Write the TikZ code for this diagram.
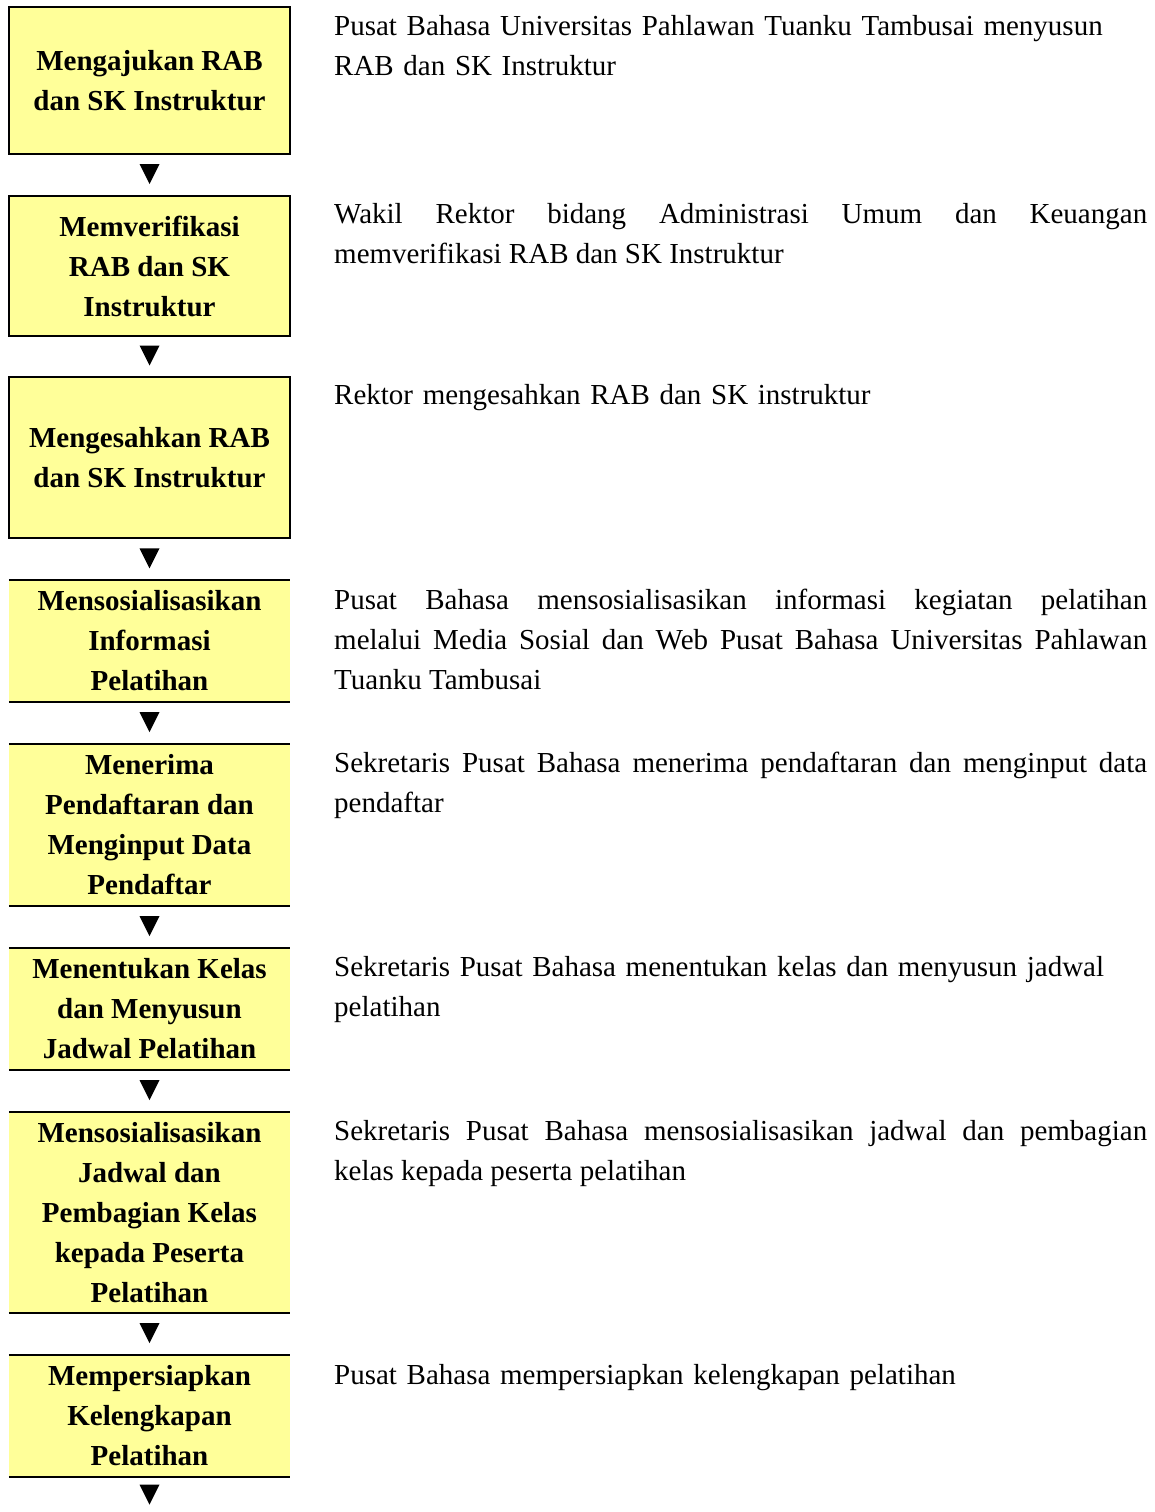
\documentclass[tikz,border=0pt]{standalone}
\usepackage{fontspec}
\setmainfont{Liberation Serif}
\usetikzlibrary{calc}
\definecolor{boxfill}{HTML}{FFFF99}
\newcommand{\descfont}{\fontsize{29}{40}\selectfont\tolerance=10000\relax\hyphenpenalty=10000\relax}
\begin{document}
\begin{tikzpicture}[x=1pt,y=-1pt,
  stepbox/.style={fill=boxfill, minimum width=281pt, inner sep=0pt, align=center,
    font=\fontsize{29}{40}\selectfont\bfseries},
  framed/.style={stepbox, draw=black, line width=2pt},
  openbox/.style={stepbox},
  edgerule/.style={line width=2.4pt},
  desc/.style={anchor=north west, inner sep=0pt, text width=813pt, font=\descfont},
  tri/.style={fill=black}]
\useasboundingbox (0,0) rectangle (1154,1512);

% flow steps
\node[framed, minimum height=147pt]  (b1) at (149.5,80.5)  {Mengajukan RAB\\dan SK Instruktur};
\node[framed, minimum height=140pt]  (b2) at (149.5,266)   {Memverifikasi\\RAB dan SK\\Instruktur};
\node[framed, minimum height=161pt]  (b3) at (149.5,457.5) {Mengesahkan RAB\\dan SK Instruktur};
\node[openbox, minimum height=122pt] (b4) at (149.5,641)   {Mensosialisasikan\\Informasi\\Pelatihan};
\node[openbox, minimum height=162pt] (b5) at (149.5,825)   {Menerima\\Pendaftaran dan\\Menginput Data\\Pendaftar};
\node[openbox, minimum height=122pt] (b6) at (149.5,1009)  {Menentukan Kelas\\dan Menyusun\\Jadwal Pelatihan};
\node[openbox, minimum height=201pt] (b7) at (149.5,1212.5){Mensosialisasikan\\Jadwal dan\\Pembagian Kelas\\kepada Peserta\\Pelatihan};
\node[openbox, minimum height=122pt] (b8) at (149.5,1416)  {Mempersiapkan\\Kelengkapan\\Pelatihan};
\coordinate (bend) at ($(b8.south)+(0,37)$);

% top and bottom rules of the open steps
\foreach \b in {b4,b5,b6,b7,b8}
  \draw[edgerule] (\b.north west) -- (\b.north east) (\b.south west) -- (\b.south east);

% downward triangles between steps
\foreach \a/\b in {b1/b2,b2/b3,b3/b4,b4/b5,b5/b6,b6/b7,b7/b8,b8/bend}
  \fill[tri] ($(\a.south)!0.5!(\b.north)+(0,-1)$) +(-10,-10) -- +(10,-10) -- +(0,10) -- cycle;

% descriptions
\node[desc, align=left] (d1) at (334,7)
  {\strut Pusat Bahasa Universitas Pahlawan Tuanku Tambusai menyusun\\RAB dan SK Instruktur};
\node[desc, align=justify] (d2) at (334,195)
  {\strut Wakil Rektor bidang Administrasi Umum dan Keuangan\linebreak memverifikasi RAB dan SK Instruktur};
\node[desc, align=left] (d3) at (334,376)
  {\strut Rektor mengesahkan RAB dan SK instruktur};
\node[desc, align=justify] (d4) at (334,581)
  {\strut Pusat Bahasa mensosialisasikan informasi kegiatan pelatihan\linebreak melalui Media Sosial dan Web Pusat Bahasa Universitas Pahlawan\linebreak Tuanku Tambusai};
\node[desc, align=justify] (d5) at (334,744)
  {\strut Sekretaris Pusat Bahasa menerima pendaftaran dan menginput data\linebreak pendaftar};
\node[desc, align=left] (d6) at (334,948)
  {\strut Sekretaris Pusat Bahasa menentukan kelas dan menyusun jadwal\\pelatihan};
\node[desc, align=justify] (d7) at (334,1112)
  {\strut Sekretaris Pusat Bahasa mensosialisasikan jadwal dan pembagian\linebreak kelas kepada peserta pelatihan};
\node[desc, align=left] (d8) at (334,1356)
  {\strut Pusat Bahasa mempersiapkan kelengkapan pelatihan};
\end{tikzpicture}
\end{document}
